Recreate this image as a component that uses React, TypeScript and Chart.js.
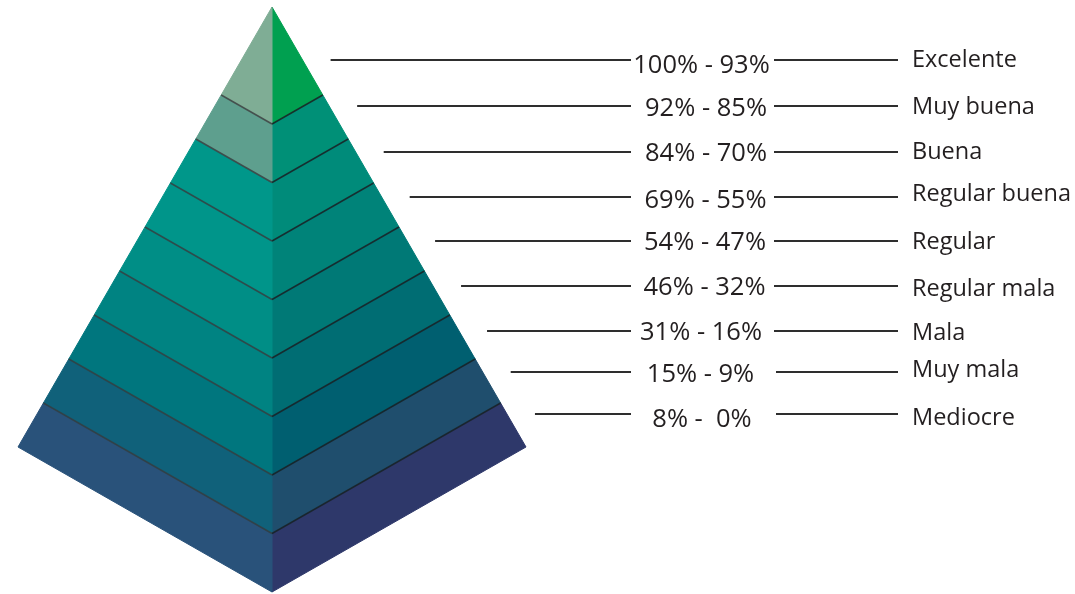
import React, { useEffect, useRef } from "react";
import { Chart, registerables } from "chart.js";

Chart.register(...registerables);

// ---------- data ----------
const categories = [
  "Excelente",
  "Muy buena",
  "Buena",
  "Regular buena",
  "Regular",
  "Regular mala",
  "Mala",
  "Muy mala",
  "Mediocre",
];
const rangeLabels = [
  "100% - 93%",
  "92% - 85%",
  "84% - 70%",
  "69% - 55%",
  "54% - 47%",
  "46% - 32%",
  "31% - 16%",
  "15% - 9%",
  "8% -  0%",
];
// relative height of each pyramid layer (top layer is double)
const bandUnits = [2, 1, 1, 1, 1, 1, 1, 1, 1];

// ---------- styles ----------
const leftFaceColors = [
  "#7fad95",
  "#5e9f8e",
  "#00978a",
  "#00958a",
  "#008e86",
  "#008382",
  "#00767e",
  "#10617a",
  "#29527a",
];
const rightFaceColors = [
  "#00a050",
  "#009077",
  "#008b7a",
  "#008379",
  "#007976",
  "#006d73",
  "#005f70",
  "#1f4e6d",
  "#2e386a",
];

// ---------- layout ----------
const W = 1075;
const H = 594;
const APEX = { x: 272, y: 7 };
const LEFT = { x: 18, y: 447 };
const FRONT = { x: 272, y: 592 };
const RIGHT = { x: 526, y: 447 };
const ROW_Y = [60, 106, 152, 197, 241, 286, 331, 372, 414];
const RANGE_BASE = [73, 116, 161, 208, 250, 295, 340, 382, 427];
const CAT_BASE = [67, 114, 159, 201, 249, 296, 340, 377, 425];
const RANGE_CX = [701.5, 706, 706, 705.5, 705, 704.5, 701, 700.5, 702];
const RIGHT_LINE_X0 = [774, 774, 774, 774, 774, 774, 774, 776, 776];
const LEADER_GAP = 28;
const LEADER_END = 631;
const RIGHT_LINE_X1 = 898;
const CAT_X = 912;
const FONT = '"Open Sans", "Noto Sans", sans-serif';

type P = { x: number; y: number };
const lerp = (a: P, b: P, t: number): P => ({ x: a.x + (b.x - a.x) * t, y: a.y + (b.y - a.y) * t });

function buildDatasets() {
  const total = bandUnits.reduce((s, v) => s + v, 0);
  const tb: number[] = [0];
  bandUnits.forEach((u, i) => tb.push(tb[i] + u / total));
  const ds: any[] = [];
  const poly = (pts: P[], color: string) => ({
    data: [...pts, pts[0]],
    showLine: true,
    fill: "shape",
    backgroundColor: color,
    borderColor: color,
    borderWidth: 1,
    pointRadius: 0,
    tension: 0,
    order: 10,
  });
  bandUnits.forEach((_, k) => {
    const t0 = tb[k];
    const t1 = tb[k + 1];
    ds.push(
      poly(
        [lerp(APEX, LEFT, t0), lerp(APEX, LEFT, t1), lerp(APEX, FRONT, t1), lerp(APEX, FRONT, t0)],
        leftFaceColors[k]
      )
    );
    ds.push(
      poly(
        [lerp(APEX, FRONT, t0), lerp(APEX, FRONT, t1), lerp(APEX, RIGHT, t1), lerp(APEX, RIGHT, t0)],
        rightFaceColors[k]
      )
    );
  });
  // layer separators
  for (let k = 1; k < bandUnits.length; k++) {
    const t = tb[k];
    ds.push({
      data: [lerp(APEX, LEFT, t), lerp(APEX, FRONT, t)],
      showLine: true,
      fill: false,
      borderColor: "rgba(55,58,60,0.8)",
      borderWidth: 1.5,
      pointRadius: 0,
      order: 1,
    });
    ds.push({
      data: [lerp(APEX, FRONT, t), lerp(APEX, RIGHT, t)],
      showLine: true,
      fill: false,
      borderColor: "rgba(25,30,35,0.85)",
      borderWidth: 1.5,
      pointRadius: 0,
      order: 1,
    });
  }
  // leader lines
  categories.forEach((_, i) => {
    const y = ROW_Y[i];
    const edgeX = APEX.x + ((y - APEX.y) / (RIGHT.y - APEX.y)) * (RIGHT.x - APEX.x);
    ds.push({
      data: [
        { x: edgeX + LEADER_GAP, y },
        { x: LEADER_END, y },
      ],
      showLine: true,
      fill: false,
      borderColor: "#2e2e2e",
      borderWidth: 1.9,
      pointRadius: 0,
      order: 0,
    });
    ds.push({
      data: [
        { x: RIGHT_LINE_X0[i], y },
        { x: RIGHT_LINE_X1, y },
      ],
      showLine: true,
      fill: false,
      borderColor: "#2e2e2e",
      borderWidth: 1.9,
      pointRadius: 0,
      order: 0,
    });
  });
  return ds;
}

const textPlugin = {
  id: "pyramidText",
  afterDatasetsDraw(chart: any) {
    const { ctx, scales } = chart;
    const xs = scales.x;
    const ys = scales.y;
    ctx.save();
    ctx.fillStyle = "#231f20";
    ctx.textBaseline = "alphabetic";
    ctx.font = `25.5px ${FONT}`;
    ctx.textAlign = "center";
    rangeLabels.forEach((lab, i) => {
      ctx.fillText(lab, xs.getPixelForValue(RANGE_CX[i]), ys.getPixelForValue(RANGE_BASE[i]));
    });
    ctx.textAlign = "left";
    ctx.font = `23.5px ${FONT}`;
    categories.forEach((lab, i) => {
      ctx.fillText(lab, xs.getPixelForValue(CAT_X), ys.getPixelForValue(CAT_BASE[i]));
    });
    ctx.restore();
  },
};

export default function App() {
  const ref = useRef<HTMLCanvasElement | null>(null);
  useEffect(() => {
    document.body.style.margin = "0";
    document.body.style.background = "#ffffff";
    if (!ref.current) return;
    const chart = new Chart(ref.current, {
      type: "scatter",
      data: { datasets: buildDatasets() },
      options: {
        animation: false,
        responsive: false,
        maintainAspectRatio: false,
        layout: { padding: 0 },
        plugins: { legend: { display: false }, tooltip: { enabled: false } },
        scales: {
          x: { type: "linear", min: 0, max: W, display: false },
          y: { type: "linear", min: 0, max: H, reverse: true, display: false },
        },
      },
      plugins: [textPlugin],
    });
    return () => chart.destroy();
  }, []);
  return (
    <div style={{ width: W, height: H, background: "#fff" }}>
      <canvas ref={ref} width={W} height={H} style={{ display: "block" }} />
    </div>
  );
}
